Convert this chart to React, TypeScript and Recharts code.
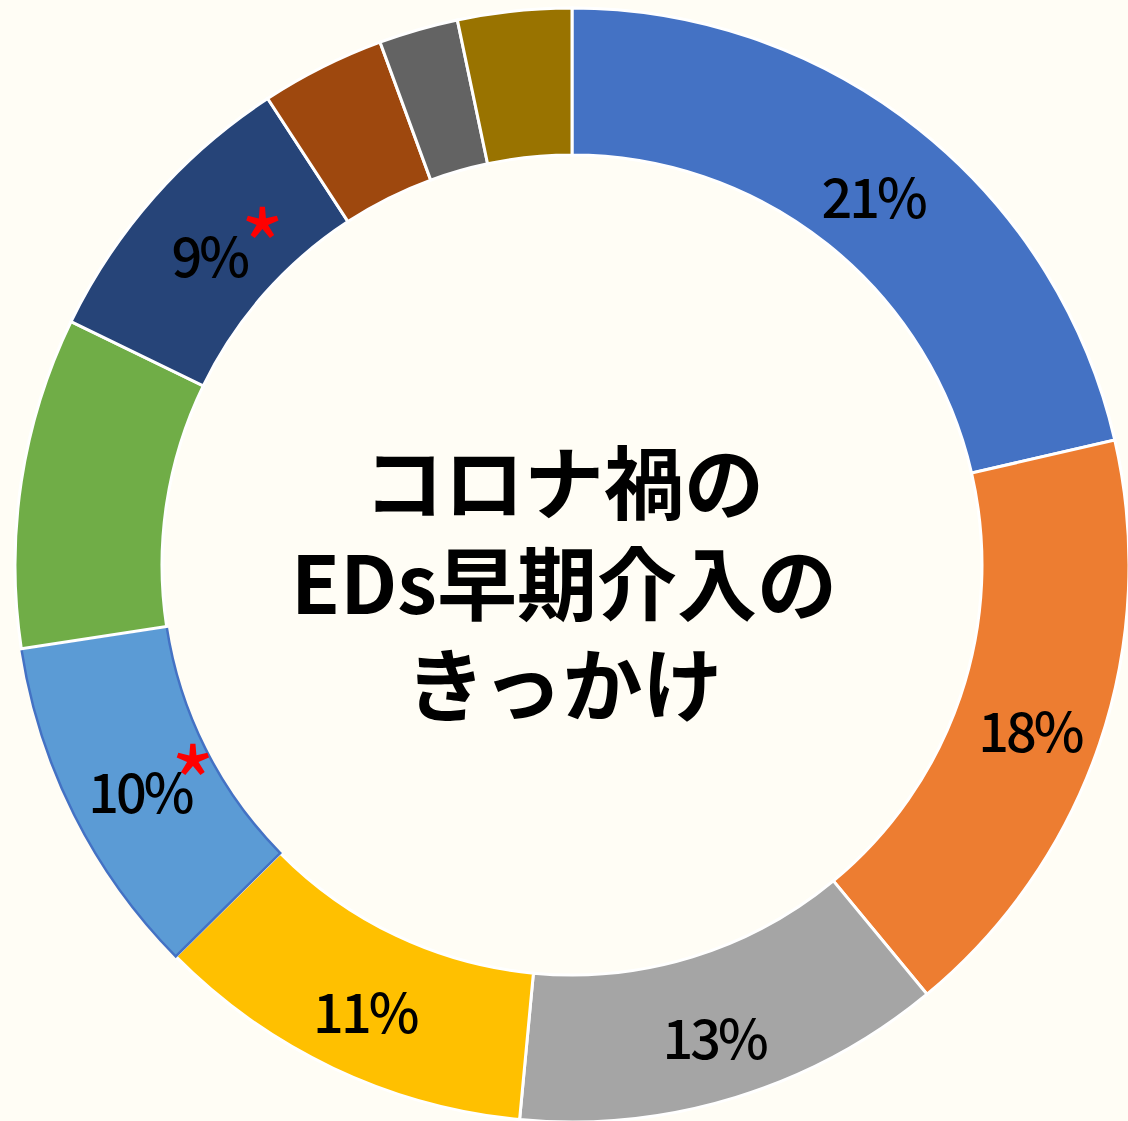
import React from 'react'
import { PieChart, Pie, Cell } from 'recharts'

const categories = ['a', 'b', 'c', 'd', 'e', 'f', 'g', 'h', 'i', 'j']
const shares = [21.4, 17.6, 12.5, 11.1, 10.0, 9.6, 8.6, 3.6, 2.3, 3.3]
const shareLabels = ['21%', '18%', '13%', '11%', '10%', '', '9%', '', '', '']
const starred = [false, false, false, false, true, false, true, false, false, false]
const titleLines = ['コロナ禍の', 'EDs早期介入の', 'きっかけ']

const COLORS = ['#4472C4', '#ED7D31', '#A5A5A5', '#FFC000', '#5B9BD5', '#70AD47', '#264478', '#9E480E', '#636363', '#997300']
const RADIAN = Math.PI / 180

const data = categories.map((name, i) => ({ name, value: shares[i] }))

const renderLabel = (props: any) => {
  const { cx, cy, midAngle, innerRadius, outerRadius, index } = props
  const text = shareLabels[index]
  if (!text) return null
  const r = (innerRadius + outerRadius) / 2
  const x = cx + r * Math.cos(-midAngle * RADIAN)
  const y = cy + r * Math.sin(-midAngle * RADIAN) + 8
  return (
    <g>
      <text x={x} y={y} textAnchor="middle" dominantBaseline="central" fill="#000" fontSize={54} fontWeight={500}
        fontFamily="'Noto Sans CJK JP', sans-serif" letterSpacing={-3}>
        {text}
      </text>
      {starred[index] && (
        <text x={x + 53} y={y + 30} textAnchor="middle" fill="#FF0000" fontSize={96}
          fontFamily="'Noto Sans CJK JP', sans-serif">
          *
        </text>
      )}
    </g>
  )
}

export default function App() {
  return (
    <div style={{ position: 'relative', width: 1128, height: 1121, background: '#FFFDF5' }}>
      <style>{'html,body{margin:0;padding:0;background:#FFFDF5}'}</style>
      <PieChart width={1128} height={1121} margin={{ top: 0, right: 0, bottom: 0, left: 0 }}>
        <Pie
          data={data}
          dataKey="value"
          cx={572}
          cy={565}
          innerRadius={410}
          outerRadius={557}
          startAngle={90}
          endAngle={-270}
          label={renderLabel}
          labelLine={false}
          isAnimationActive={false}
        >
          {data.map((_, i) => (
            <Cell key={i} fill={COLORS[i]} stroke={i === 4 ? '#4472C4' : '#FFFFFF'} strokeWidth={i === 4 ? 2.5 : 3} />
          ))}
        </Pie>
      </PieChart>
      <div style={{
        position: 'absolute', left: 0, top: 428, width: 1128, textAlign: 'center',
        fontFamily: "'Noto Sans CJK JP', sans-serif", fontWeight: 700, fontSize: 80, lineHeight: '101px', color: '#000'
      }}>
        {titleLines.map((t, i) => <div key={i}>{t}</div>)}
      </div>
    </div>
  )
}
